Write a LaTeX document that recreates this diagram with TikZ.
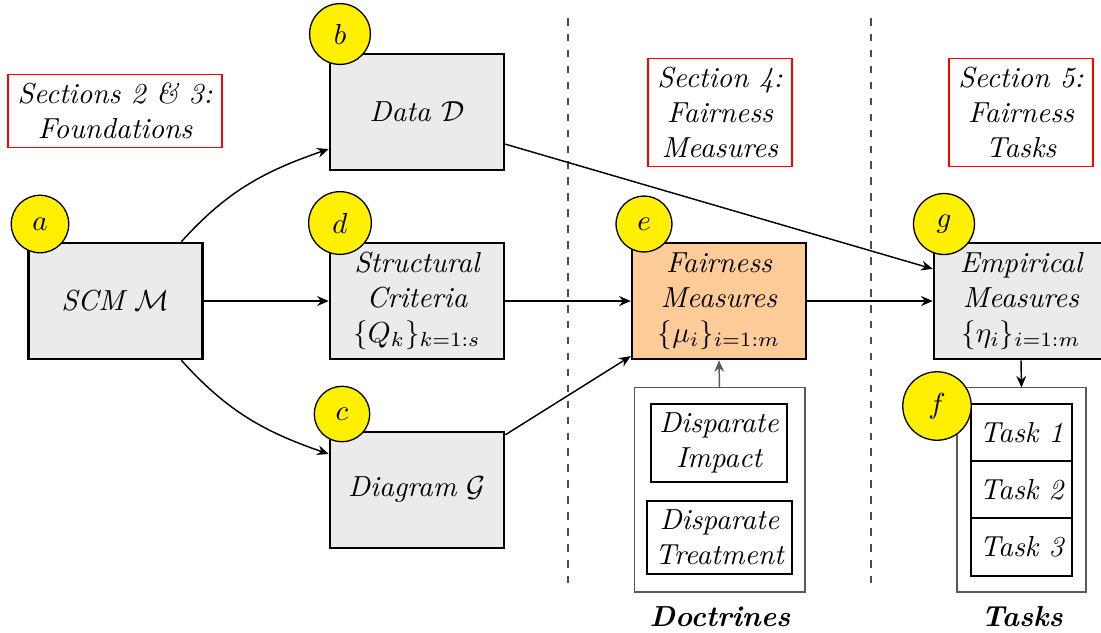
\documentclass[tikz,border=0pt]{standalone}
\usetikzlibrary{arrows.meta,calc}
\definecolor{boxgray}{RGB}{235,235,235}
\definecolor{peach}{RGB}{255,204,153}
\definecolor{circyellow}{RGB}{255,240,0}
\begin{document}
\begin{tikzpicture}[x=0.345pt,y=0.345pt,
  mainbox/.style={draw=black,line width=0.9pt,fill=boxgray,minimum width=60pt,minimum height=40pt,align=center,font=\itshape,inner sep=1pt},
  secbox/.style={draw=red,line width=0.5pt,align=center,font=\itshape,inner xsep=3.3pt,inner ysep=3pt},
  tag/.style={circle,draw=black,line width=0.45pt,fill=circyellow,inner sep=4.6pt},
  inbox/.style={draw=black,line width=0.9pt,align=center,font=\itshape,inner sep=1.5pt},
  conn/.style={line width=0.5pt,-{Stealth[length=4pt,width=3.4pt,inset=1.3pt]}},
  sep/.style={draw=black!70,line width=0.55pt,dash pattern=on 2.6pt off 2.9pt}
]
\useasboundingbox (0,0) rectangle (1101,-632);

% separators
\coordinate (s1t) at (568,-18); \coordinate (s1b) at (568,-583);
\coordinate (s2t) at (871,-18); \coordinate (s2b) at (871,-583);
\draw[sep] (s1t) -- (s1b);
\draw[sep] (s2t) -- (s2b);

% section labels
\node[secbox] (sec23) at (115,-111) {Sections 2 \& 3:\\Foundations};
\node[secbox] (sec4) at (720,-112.5) {Section 4:\\Fairness\\Measures};
\node[secbox] (sec5) at (1021,-112.5) {Section 5:\\Fairness\\Tasks};

% main boxes
\node[mainbox] (scm) at (115.5,-301) {SCM $\mathcal{M}$};
\node[mainbox] (data) at (417,-112) {Data $\mathcal{D}$};
\node[mainbox] (struct) at (417,-301) {Structural\\Criteria\\$\{Q_k\}_{k=1:s}$};
\node[mainbox] (diag) at (417,-490) {Diagram $\mathcal{G}$};
\node[mainbox,fill=peach] (fair) at (719,-301) {Fairness\\Measures\\$\{\mu_i\}_{i=1:m}$};
\node[mainbox] (emp) at (1021,-301) {Empirical\\Measures\\$\{\eta_i\}_{i=1:m}$};

% doctrines group
\draw[draw=black!65,line width=0.55pt] (634.5,-387.5) rectangle (805,-592);
\coordinate (doctop) at (719.5,-387.5);
\node[inbox,minimum width=46.9pt,minimum height=26.9pt] (di) at (719,-443) {Disparate\\Impact};
\node[inbox,minimum width=50pt,minimum height=25.2pt] (dt) at (719.5,-537.5) {Disparate\\Treatment};
\node[font=\bfseries\itshape] (doc) at (720,-617) {Doctrines};

% tasks group
\draw[draw=black!65,line width=0.55pt] (957,-387.5) rectangle (1086,-592);
\coordinate (tasktop) at (1021.5,-387.5);
\node[inbox,minimum width=34.8pt,minimum height=19.7pt] (t1) at (1021.5,-432.5) {Task 1};
\node[inbox,minimum width=34.8pt,minimum height=19.7pt] (t2) at (1021.5,-489.5) {Task 2};
\node[inbox,minimum width=34.8pt,minimum height=20pt] (t3) at (1021.5,-547) {Task 3};
\node[font=\bfseries\itshape] (tasks) at (1022,-617) {Tasks};

% connectors
\draw[conn] (scm.42) to[out=48,in=199] ($(data.west)+(0,-37)$);
\draw[conn] (scm.east) -- (struct.west);
\draw[conn] (scm.-42) to[out=-48,in=161] ($(diag.west)+(0,36)$);
\draw[conn] (data.-20) -- (emp.160);
\draw[conn] (struct.east) -- (fair.west);
\draw[conn] (diag.32) -- (fair.212);
\draw[conn] (fair.east) -- (emp.west);
\draw[conn,draw=black!65] (doctop) -- (fair.south);
\draw[conn] (emp.south) -- (tasktop);

% tags
\node[tag] (ta) at (40,-224) {$a$};
\node[tag] (tb) at (340,-34) {$b$};
\node[tag] (td) at (340,-223) {$d$};
\node[tag] (tc) at (342,-414) {$c$};
\node[tag] (te) at (644,-224) {$e$};
\node[tag] (tg) at (944,-224) {$g$};
\node[tag] (tf) at (937,-406) {$f$};
\end{tikzpicture}
\end{document}
